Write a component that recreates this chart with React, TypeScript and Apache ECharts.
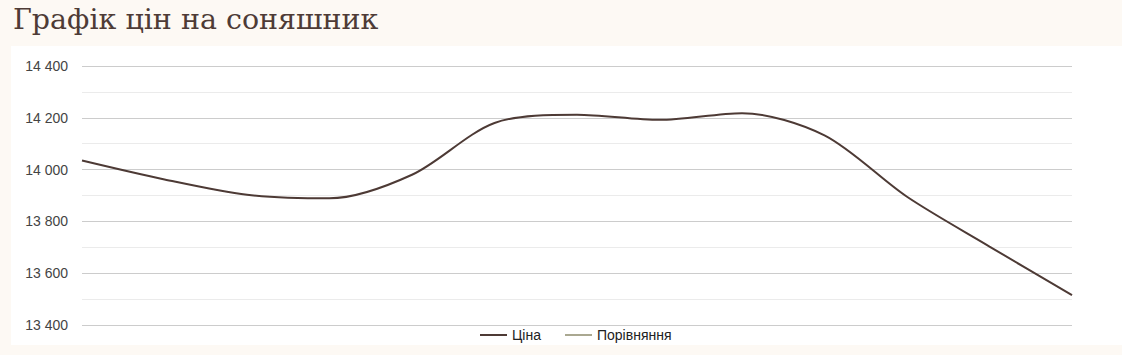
import React, { useEffect, useRef } from "react";
import * as echarts from "echarts";

const categories = ["1", "2", "3", "4", "5", "6", "7", "8", "9", "10", "11", "12", "13"];
const priceValues = [14035, 13962, 13903, 13889, 13980, 14180, 14212, 14192, 14218, 14132, 13895, 13703, 13515];
const comparisonValues: number[] = [];
const yTicks = [13400, 13600, 13800, 14000, 14200, 14400];

const fmt = (v: number) => String(v).replace(/\B(?=(\d{3})+(?!\d))/g, " ");

export default function App() {
  const ref = useRef<HTMLDivElement>(null);
  useEffect(() => {
    document.body.style.margin = "0";
    const chart = echarts.init(ref.current!, null, { renderer: "svg" });
    chart.setOption({
      animation: false,
      backgroundColor: "#fdf9f4",
      title: {
        text: "Графік цін на соняшник",
        left: 8,
        top: 0,
        textStyle: { fontFamily: "DejaVu Serif", fontSize: 28.5, fontWeight: "normal", color: "#4e3b36" },
      },
      graphic: [
        { type: "rect", left: 11, top: 46, shape: { width: 1111, height: 299 }, style: { fill: "#ffffff" }, z: -10 },
      ],
      grid: { left: 82, right: 50, top: 66, bottom: 30 },
      legend: {
        bottom: 8,
        left: 475,
        icon: "rect",
        itemWidth: 27,
        itemHeight: 2,
        itemGap: 24,
        textStyle: { fontFamily: "Liberation Sans, Arial", fontSize: 14, color: "#222" },
        data: ["Ціна", "Порівняння"],
      },
      xAxis: {
        type: "category",
        data: categories,
        boundaryGap: false,
        axisLine: { show: false },
        axisTick: { show: false },
        axisLabel: { show: false },
      },
      yAxis: {
        type: "value",
        min: yTicks[0],
        max: yTicks[yTicks.length - 1],
        interval: 200,
        axisLine: { show: false },
        axisTick: { show: false },
        axisLabel: {
          formatter: (v: number) => fmt(v),
          fontFamily: "Liberation Sans, Arial",
          fontSize: 14,
          color: "#444",
          margin: 14,
        },
        splitLine: { lineStyle: { color: "#cccccc", width: 1 } },
        minorTick: { show: false, splitNumber: 2 },
        minorSplitLine: { show: true, lineStyle: { color: "#ebebeb", width: 1 } },
      },
      series: [
        {
          name: "Ціна",
          type: "line",
          data: priceValues,
          smooth: 0.3,
          showSymbol: false,
          symbol: "none",
          lineStyle: { color: "#4d3a35", width: 2 },
          itemStyle: { color: "#4d3a35" },
        },
        {
          name: "Порівняння",
          type: "line",
          data: comparisonValues,
          showSymbol: false,
          symbol: "none",
          lineStyle: { color: "#aaa891", width: 2 },
          itemStyle: { color: "#aaa891" },
        },
      ],
    });
    return () => chart.dispose();
  }, []);
  return <div ref={ref} style={{ width: 1122, height: 355 }} />;
}
